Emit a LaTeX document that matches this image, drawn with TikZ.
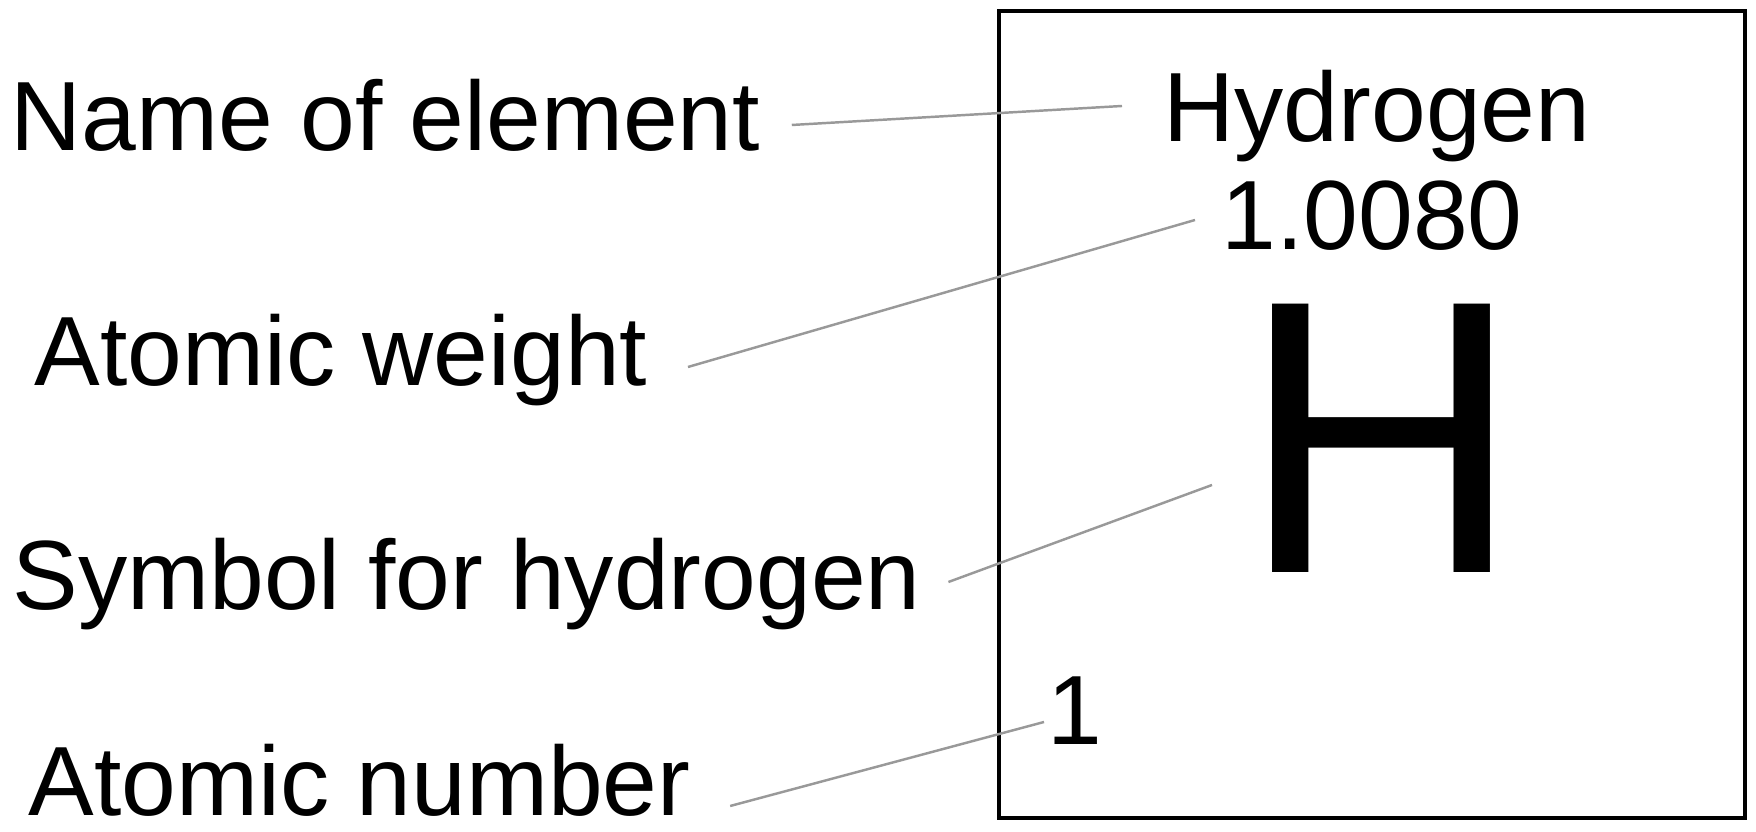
\documentclass[tikz,border=0pt]{standalone}
\usepackage{fontspec}
\setmainfont{Liberation Sans}
\usepackage{tikz}
\usetikzlibrary{positioning, calc}

\begin{document}
\begin{tikzpicture}[
    lbl/.style={inner sep=0pt, anchor=base west, font=\fontsize{28}{33}\selectfont},
    lead/.style={draw=gray!80, line width=0.7pt},
    frame/.style={draw=black, line width=1.2pt}
]
    \useasboundingbox (0,0) rectangle (17.56,8.32);

    \draw[frame] (9.99,0.14) rectangle (17.45,8.21);

    \node[lbl] (name) at (0.10,6.81) {Name of element};
    \node[lbl] (weight) at (0.34,4.46) {Atomic weight};
    \node[lbl] (symbol) at (0.12,2.22) {Symbol for hydrogen};
    \node[lbl] (number) at (0.28,0.16) {Atomic number};

    \node[lbl] (hydro) at (11.63,6.90) {Hydrogen};
    \node[lbl] (mass) at (12.21,5.82) {1.0080};
    \node[lbl, font=\fontsize{111}{123}\selectfont] (symH) at (12.40,2.59) {H};
    \node[lbl] (num) at (10.47,0.87) {1};

    \draw[lead] ([shift={(0.31,0.26)}]name.base east) -- ([shift={(-0.41,0.36)}]hydro.base west);
    \draw[lead] ([shift={(0.40,0.19)}]weight.base east) -- ([shift={(-0.26,0.30)}]mass.base west);
    \draw[lead] ([shift={(0.27,0.28)}]symbol.base east) -- ([shift={(-0.28,0.88)}]symH.base west);
    \draw[lead] ([shift={(0.39,0.10)}]number.base east) -- ([shift={(-0.03,0.23)}]num.base west);
\end{tikzpicture}
\end{document}
